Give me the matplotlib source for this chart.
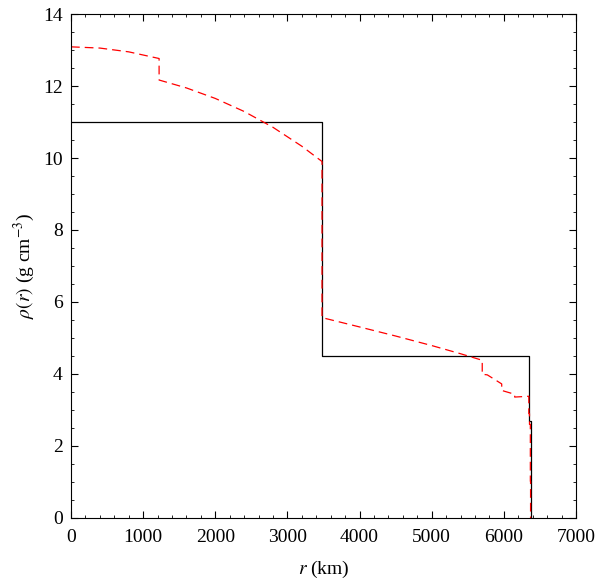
import numpy as np
import matplotlib
matplotlib.use('Agg')
import matplotlib.pyplot as plt
from matplotlib.ticker import MultipleLocator

plt.rcParams['font.family'] = ['Liberation Serif', 'DejaVu Serif']
plt.rcParams['mathtext.fontset'] = 'stix'

# two-layer step model (radius in km, density in g/cm^3)
step_r = [0, 3480, 3480, 6349, 6349, 6371, 6371]
step_rho = [11.0, 11.0, 4.5, 4.5, 2.7, 2.7, 0.0]

# PREM-like density profile
prem_r = [0, 400, 800, 1221.5, 1221.5, 1600, 2000, 2400, 2800, 3200, 3480,
          3480, 4000, 4500, 5000, 5400, 5701, 5701, 5771, 5771, 5971, 5971,
          6151, 6151, 6346.6, 6346.6, 6356, 6356, 6368, 6368, 6371, 6371]
prem_rho = [13.088, 13.054, 12.949, 12.764, 12.166, 11.947, 11.655, 11.293,
            10.853, 10.327, 9.903, 5.566, 5.307, 5.055, 4.790, 4.563, 4.381,
            3.992, 3.976, 3.976, 3.724, 3.543, 3.436, 3.359, 3.381, 2.9, 2.9,
            2.6, 2.6, 1.02, 1.02, 0.0]

fig = plt.figure(figsize=(5.99, 5.79), dpi=100)
ax = fig.add_axes([0.1185, 0.1054, 0.843, 0.8704])

ax.plot(step_r, step_rho, color='black', lw=0.9)
ax.plot(prem_r, prem_rho, color='red', lw=0.9, dashes=(7, 4))

ax.set_xlim(0, 7000)
ax.set_ylim(0, 14)
ax.xaxis.set_major_locator(MultipleLocator(1000))
ax.xaxis.set_minor_locator(MultipleLocator(200))
ax.yaxis.set_major_locator(MultipleLocator(2))
ax.yaxis.set_minor_locator(MultipleLocator(0.5))
ax.tick_params(which='both', direction='in', top=True, right=True, labelsize=14)
ax.tick_params(axis='x', pad=8)
ax.tick_params(axis='y', pad=6)
ax.tick_params(which='major', length=5, width=0.8)
ax.tick_params(which='minor', length=2.5, width=0.6)
for s in ax.spines.values():
    s.set_linewidth(0.8)

ax.set_xlabel(r'$r$ (km)', fontsize=14, labelpad=9)
ax.set_ylabel(r'$\rho(r)$ (g cm$^{-3}$)', fontsize=14, labelpad=4)

fig.savefig('out.png', dpi=100)
